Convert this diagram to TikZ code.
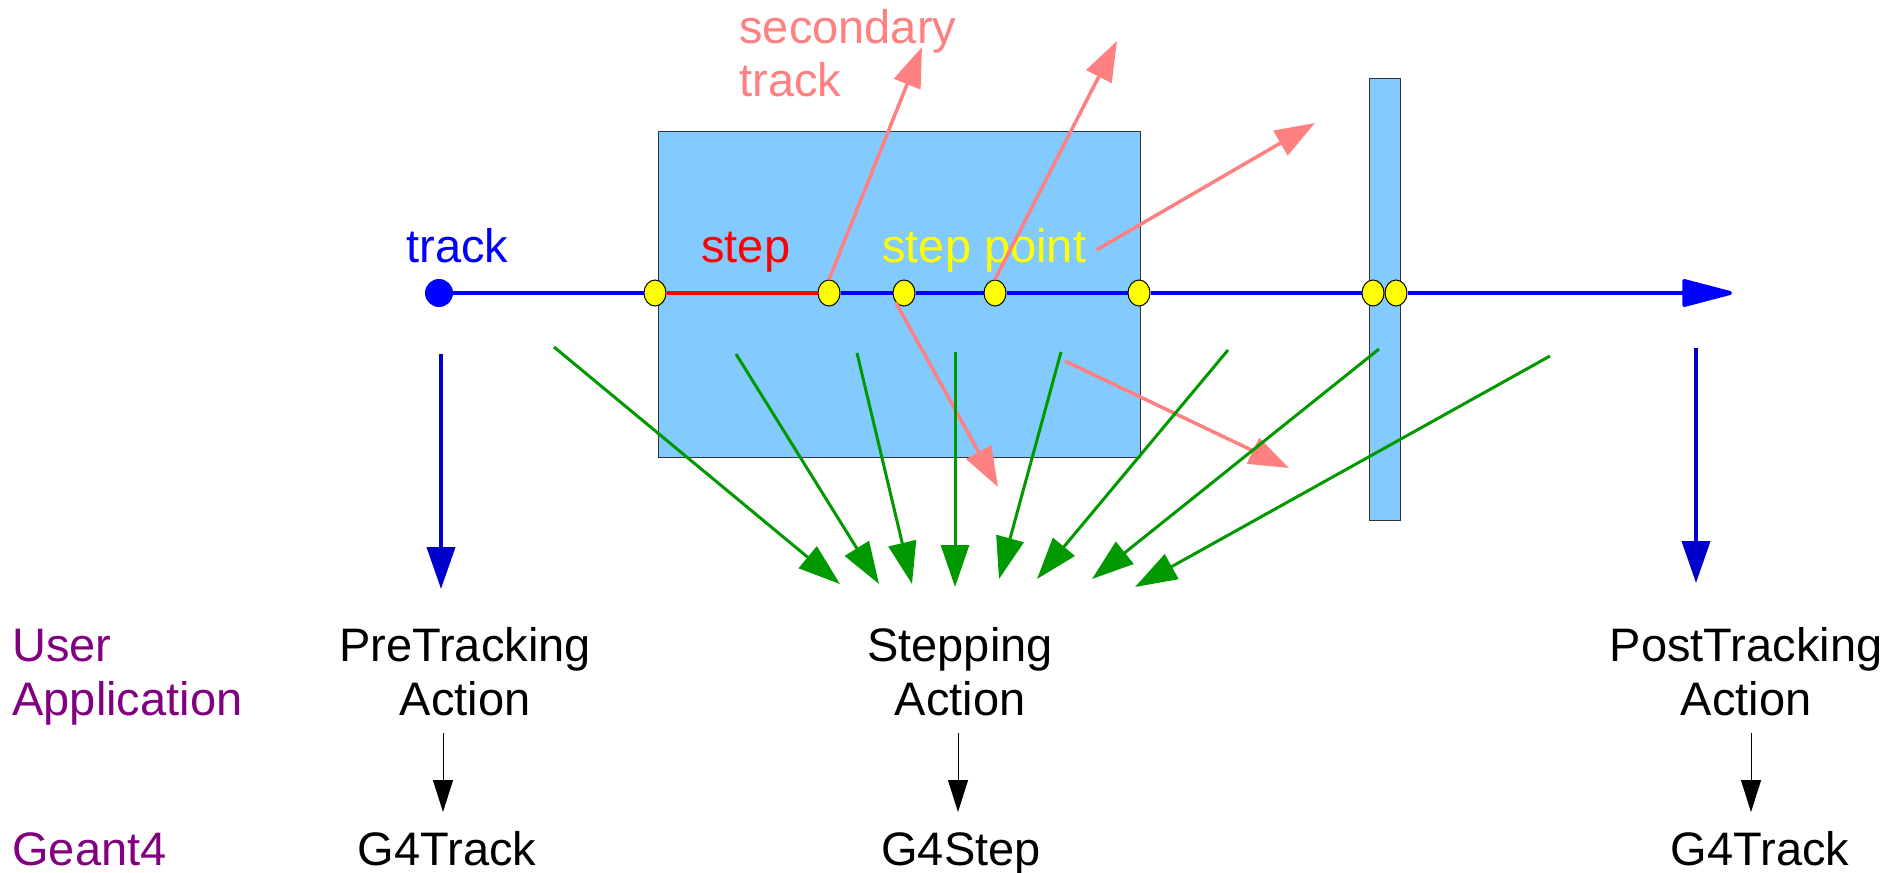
\documentclass[tikz,border=0pt]{standalone}
\usepackage{fontspec}
\setmainfont{Liberation Sans}
\usetikzlibrary{arrows.meta,shapes.geometric}
\definecolor{volblue}{HTML}{83CAFF}
\definecolor{pinkc}{HTML}{FF8080}
\definecolor{greenc}{HTML}{009900}
\definecolor{trackblue}{HTML}{0000FF}
\definecolor{darkblue}{HTML}{0000CC}
\definecolor{purplec}{HTML}{800080}
\definecolor{yellowc}{HTML}{FFFF00}
\begin{document}
\begin{tikzpicture}[x=0.5pt,y=-0.5pt,
  lbl/.style={font=\fontsize{23.5pt}{27pt}\selectfont, inner sep=0pt, anchor=base west},
  lblc/.style={lbl, anchor=base},
  volume/.style={fill=volblue, draw=black!80, line width=0.5pt},
  stpt/.style={ellipse, draw=black, line width=0.5pt, fill=yellowc, minimum width=11pt, minimum height=13pt, inner sep=0pt},
  trk/.style={trackblue, line width=2pt},
  sec/.style={pinkc, line width=1.75pt, -{Triangle[length=20pt,width=14pt]}},
  act/.style={greenc, line width=1.5pt, -{Triangle[length=21pt,width=14pt]}},
  dn/.style={darkblue, line width=2pt, -{Triangle[length=21pt,width=14pt]}},
  blk/.style={black, line width=0.5pt, -{Triangle[length=16pt,width=10pt]}}
]
\useasboundingbox (0,0) rectangle (1904,872);

% volumes
\path[volume] (658,131) rectangle (1140,457);
\path[volume] (1369,79) rectangle (1400,520);

% track start and step points
\node[circle, fill=trackblue, minimum size=14pt, inner sep=0pt] (start) at (439,293) {};
\node[stpt] (p1) at (655,293) {};
\node[stpt] (p2) at (829,293) {};
\node[stpt] (p3) at (904,293) {};
\node[stpt] (p4) at (995,293) {};
\node[stpt] (p5) at (1139,293) {};
\node[stpt] (p6) at (1373,293) {};
\node[stpt] (p7) at (1396,293) {};
\coordinate (tend) at (1732,293);

\draw[trk] (start) -- (p1);
\draw[red, line width=2pt] (p1) -- (p2);
\draw[trk] (p2) -- (p3);
\draw[trk] (p3) -- (p4);
\draw[trk] (p4) -- (p5);
\draw[trk] (p5) -- (p6);
\draw[trk, -{Triangle[length=28pt,width=14pt,round]}] (p7) -- (tend);

% labels on track
\node[lbl, text=trackblue] (ltrack) at (406,262) {track};
\node[lbl, text=red] (lstep) at (701,262) {step};
\node[lbl, text=yellowc, inner sep=5pt] (lpoint) at (872,262) {step point};
\node[lbl, text=pinkc] (lsec1) at (739,44) {secondary};
\node[lbl, text=pinkc] (lsec2) at (739,97) {track};

% secondary tracks
\coordinate (s1) at (922,47);
\coordinate (s2) at (1117,41);
\coordinate (s3) at (1315,123);
\coordinate (s4) at (998,487);
\coordinate (s5a) at (1065,361);
\coordinate (s5) at (1289,468);
\draw[sec] (p2.north) -- (s1);
\draw[sec] (p4.north) -- (s2);
\draw[sec] (lpoint.east) -- (s3);
\draw[sec] (p3.south west) -- (s4);
\draw[sec] (s5a) -- (s5);

% stepping action arrows
\coordinate (g1a) at (554,347);  \coordinate (g1b) at (840,584);
\coordinate (g2a) at (736,354);  \coordinate (g2b) at (879,584);
\coordinate (g3a) at (857,353);  \coordinate (g3b) at (912,584);
\coordinate (g4a) at (955,352);  \coordinate (g4b) at (955,587);
\coordinate (g5a) at (1061,352); \coordinate (g5b) at (999,579);
\coordinate (g6a) at (1228,350); \coordinate (g6b) at (1037,579);
\coordinate (g7a) at (1379,349); \coordinate (g7b) at (1092,579);
\coordinate (g8a) at (1550,356); \coordinate (g8b) at (1135,587);
\draw[act] (g1a) -- (g1b);
\draw[act] (g2a) -- (g2b);
\draw[act] (g3a) -- (g3b);
\draw[act] (g4a) -- (g4b);
\draw[act] (g5a) -- (g5b);
\draw[act] (g6a) -- (g6b);
\draw[act] (g7a) -- (g7b);
\draw[act] (g8a) -- (g8b);

% tracking action arrows
\coordinate (d1a) at (441,354);  \coordinate (d1b) at (441,589);
\coordinate (d2a) at (1696,348); \coordinate (d2b) at (1696,583);
\draw[dn] (d1a) -- (d1b);
\draw[dn] (d2a) -- (d2b);

% bottom labels
\node[lbl, text=purplec] (user) at (12,661) {User};
\node[lbl, text=purplec] (appl) at (12,715) {Application};
\node[lbl, text=purplec] (geant) at (12,865) {Geant4};
\node[lblc] (pre1) at (465,661) {PreTracking};
\node[lblc] (pre2) at (465,715) {Action};
\node[lblc] (stp1) at (960,661) {Stepping};
\node[lblc] (stp2) at (960,715) {Action};
\node[lblc] (post1) at (1746,661) {PostTracking};
\node[lblc] (post2) at (1746,715) {Action};
\node[lblc] (gtr1) at (447,865) {G4Track};
\node[lblc] (gstp) at (961,865) {G4Step};
\node[lblc] (gtr2) at (1760,865) {G4Track};

\coordinate (b1a) at (443,733);  \coordinate (b1b) at (443,812);
\coordinate (b2a) at (958,733);  \coordinate (b2b) at (958,812);
\coordinate (b3a) at (1751,733); \coordinate (b3b) at (1751,812);
\draw[blk] (b1a) -- (b1b);
\draw[blk] (b2a) -- (b2b);
\draw[blk] (b3a) -- (b3b);
\end{tikzpicture}
\end{document}
